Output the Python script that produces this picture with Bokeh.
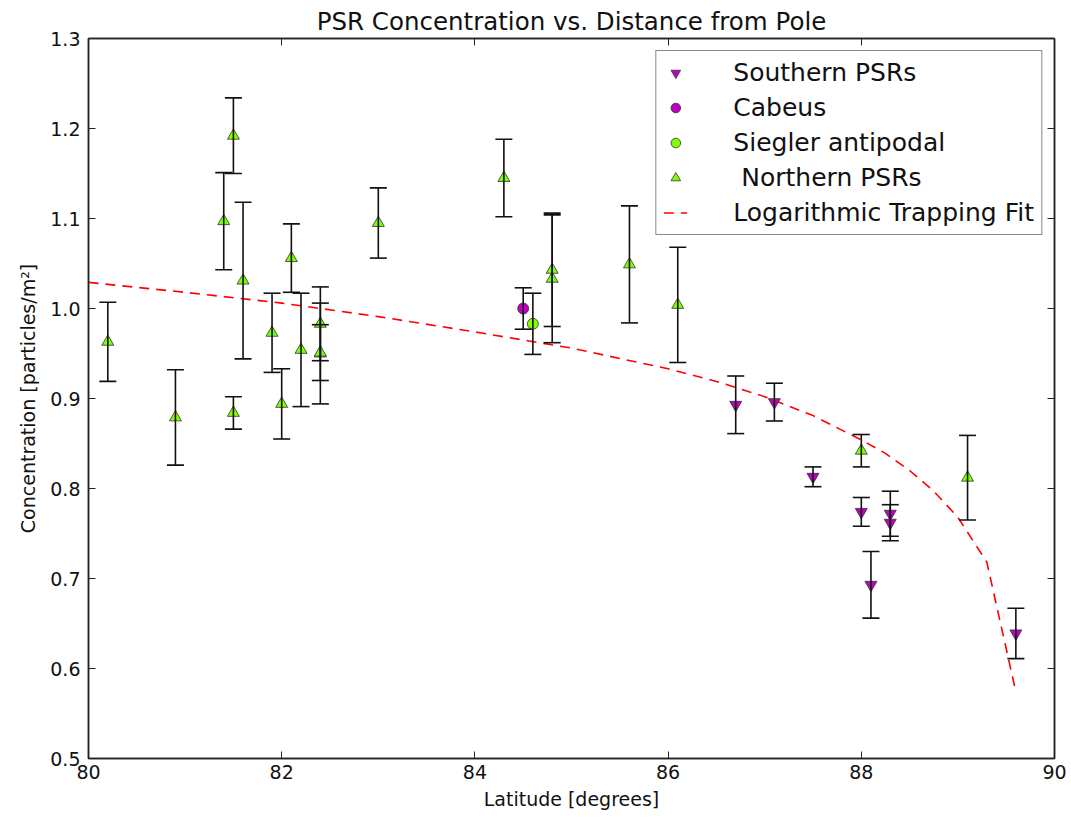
from bokeh.plotting import figure
from bokeh.models import (Range1d, FixedTicker, PrintfTickFormatter, LinearAxis,
                          ColumnDataSource, Whisker, TeeHead, Legend, LegendItem)
from bokeh.embed import file_html
from bokeh.resources import INLINE

# ---------------- data ----------------
south_lat = [86.7, 87.1, 87.5, 88.0, 88.1, 88.3, 88.3, 89.6]
south_conc = [0.893, 0.896, 0.813, 0.774, 0.693, 0.772, 0.762, 0.639]
south_err = [0.032, 0.021, 0.011, 0.016, 0.037, 0.025, 0.020, 0.028]

cabeus_lat = [84.5]
cabeus_conc = [1.000]
cabeus_err = [0.023]

siegler_lat = [84.6]
siegler_conc = [0.983]
siegler_err = [0.034]

north_lat = [80.2, 80.9, 81.4, 81.5, 81.5, 81.6, 81.9, 82.0, 82.1, 82.2, 82.4, 82.4,
             82.4, 83.0, 84.3, 84.8, 84.8, 85.6, 86.1, 88.0, 89.1]
north_conc = [0.963, 0.879, 1.097, 1.192, 0.884, 1.031, 0.973, 0.894, 1.056, 0.954, 0.983,
              0.950, 0.951, 1.095, 1.145, 1.043, 1.033, 1.049, 1.004, 0.842, 0.812]
north_err = [0.044, 0.053, 0.054, 0.042, 0.018, 0.087, 0.044, 0.039, 0.038, 0.063, 0.041,
             0.056, 0.031, 0.039, 0.043, 0.063, 0.071, 0.065, 0.064, 0.018, 0.047]

fit_lat = [80.0, 81.0, 82.0, 83.0, 84.0, 85.0, 86.0, 86.5, 87.0, 87.5, 88.0, 88.25,
           88.5, 88.75, 89.0, 89.3, 89.6]
fit_conc = [1.029, 1.018, 1.006, 0.991, 0.974, 0.956, 0.933, 0.919, 0.902, 0.881, 0.854,
            0.839, 0.820, 0.797, 0.768, 0.718, 0.574]

x_ticks = [80, 82, 84, 86, 88, 90]
y_ticks = [0.5, 0.6, 0.7, 0.8, 0.9, 1.0, 1.1, 1.2, 1.3]

TITLE = "PSR Concentration vs. Distance from Pole"
XLABEL = "Latitude [degrees]"
YLABEL = "Concentration [particles/m\u00b2]"

MAGENTA = "#bf00bf"
GREEN = "#7fff00"
FONT = "DejaVu Sans"

# ---------------- figure ----------------
p = figure(width=1071, height=820, output_backend="svg", toolbar_location=None,
           x_range=Range1d(80, 90), y_range=Range1d(0.5, 1.3),
           min_border_left=88, min_border_right=17, min_border_top=38, min_border_bottom=62,
           title=TITLE)
p.title.text_font = FONT
p.title.text_font_size = "24.5px"
p.title.text_font_style = "normal"
p.title.align = "center"
p.title.text_color = "#111111"
p.title.standoff = 6

p.grid.visible = False
p.outline_line_color = "#222222"
p.outline_line_width = 1.5
p.background_fill_color = "white"
p.border_fill_color = "white"


def style_axis(ax, show_labels):
    ax.major_tick_in = 7
    ax.major_tick_out = 0
    ax.minor_tick_in = 0
    ax.minor_tick_out = 0
    ax.axis_line_color = "#222222"
    ax.axis_line_width = 1.5
    ax.major_tick_line_color = "#222222"
    ax.major_tick_line_width = 1
    ax.major_label_text_font = FONT
    ax.major_label_text_font_size = "19px"
    ax.major_label_text_color = "#111111" if show_labels else None
    ax.axis_label_text_font = FONT
    ax.axis_label_text_font_size = "19px"
    ax.axis_label_text_font_style = "normal"
    ax.axis_label_text_color = "#111111"


xa = p.xaxis[0]
ya = p.yaxis[0]
xa.ticker = FixedTicker(ticks=x_ticks)
ya.ticker = FixedTicker(ticks=y_ticks)
xa.formatter = PrintfTickFormatter(format="%d")
ya.formatter = PrintfTickFormatter(format="%.1f")
style_axis(xa, True)
style_axis(ya, True)
xa.axis_label = XLABEL
ya.axis_label = YLABEL
xa.major_label_standoff = 6
ya.major_label_standoff = 8
xa.axis_label_standoff = 6
ya.axis_label_standoff = 8

top_ax = LinearAxis(ticker=FixedTicker(ticks=x_ticks))
right_ax = LinearAxis(ticker=FixedTicker(ticks=y_ticks))
style_axis(top_ax, False)
style_axis(right_ax, False)
top_ax.major_label_overrides = {t: "" for t in x_ticks}
right_ax.major_label_overrides = {t: "" for t in y_ticks}
top_ax.major_label_standoff = 0
right_ax.major_label_standoff = 0
p.add_layout(top_ax, "above")
p.add_layout(right_ax, "right")

# ---------------- error bars ----------------
def add_errorbars(lat, conc, err):
    src = ColumnDataSource(dict(
        x=lat,
        lo=[c - e for c, e in zip(conc, err)],
        hi=[c + e for c, e in zip(conc, err)],
    ))
    w = Whisker(source=src, base="x", lower="lo", upper="hi", dimension="height",
                line_color="#111111", line_width=1.6,
                upper_head=TeeHead(size=17, line_color="#111111", line_width=1.6),
                lower_head=TeeHead(size=17, line_color="#111111", line_width=1.6))
    w.level = "glyph"
    p.add_layout(w)


add_errorbars(south_lat, south_conc, south_err)
add_errorbars(cabeus_lat, cabeus_conc, cabeus_err)
add_errorbars(siegler_lat, siegler_conc, siegler_err)
add_errorbars(north_lat, north_conc, north_err)

# ---------------- fit line ----------------
r_fit = p.line(fit_lat, fit_conc, line_color="red", line_width=1.6, line_dash="10 7")

# ---------------- markers ----------------
r_south = p.scatter(south_lat, south_conc, marker="inverted_triangle", size=12,
                    fill_color=MAGENTA, line_color="#333333", line_width=0.8)
r_cab = p.scatter(cabeus_lat, cabeus_conc, marker="circle", size=11,
                  fill_color=MAGENTA, line_color="#333333", line_width=0.8)
r_sieg = p.scatter(siegler_lat, siegler_conc, marker="circle", size=11,
                   fill_color=GREEN, line_color="#333333", line_width=0.8)
r_north = p.scatter(north_lat, north_conc, marker="triangle", size=12,
                    fill_color=GREEN, line_color="#333333", line_width=0.8)

legend = Legend(items=[
    LegendItem(label="Southern PSRs", renderers=[r_south]),
    LegendItem(label="Cabeus", renderers=[r_cab]),
    LegendItem(label="Siegler antipodal", renderers=[r_sieg]),
    LegendItem(label=" Northern PSRs", renderers=[r_north]),
    LegendItem(label="Logarithmic Trapping Fit", renderers=[r_fit]),
], location="top_right")
legend.margin = 12
legend.padding = 7
legend.spacing = 6
legend.glyph_width = 24
legend.glyph_height = 25
legend.label_height = 25
legend.label_standoff = 46
legend.label_text_font = FONT
legend.label_text_font_size = "25px"
legend.label_text_color = "#111111"
legend.border_line_color = "#111111"
legend.border_line_width = 1.5
legend.background_fill_alpha = 1.0
p.add_layout(legend)

open("out.html", "w").write(file_html(p, INLINE))
